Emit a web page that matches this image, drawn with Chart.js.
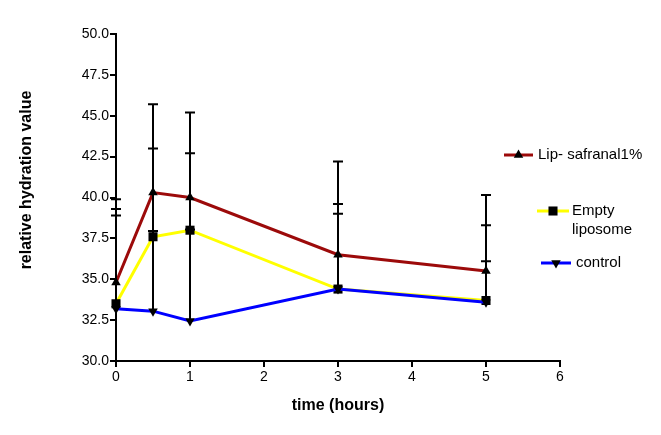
<!DOCTYPE html>
<html>
<head>
<meta charset="utf-8">
<script src="https://cdn.jsdelivr.net/npm/chart.js@4"></script>
<style>
  html, body { margin: 0; padding: 0; background: #ffffff; }
  #wrap { width: 661px; height: 435px; }
</style>
</head>
<body>
<div id="wrap"><canvas id="c" width="661" height="435"></canvas></div>
<script>
// ---- data ----
const times = [0, 0.5, 1, 3, 5];
const lipSafranal = [34.8, 40.3, 40.0, 36.5, 35.5];
const lipSafranalErr = [5.1, 5.4, 5.2, 5.7, 4.65];
const emptyLiposome = [33.5, 37.6, 38.0, 34.4, 33.7];
const emptyLiposomeErr = [5.8, 5.4, 4.7, 5.2, 4.6];
const control = [33.2, 33.05, 32.45, 34.4, 33.6];
const controlErr = [5.7, 4.9, 5.6, 4.6, 2.5];
const seriesLabels = ['Lip- safranal1%', ['Empty', 'liposome'], 'control'];
const xTitle = 'time (hours)';
const yTitle = 'relative hydration value';

const toPts = (ys) => times.map((t, i) => ({ x: t, y: ys[i] }));

const whiteBg = {
  id: 'whiteBg',
  beforeDraw(chart) {
    const ctx = chart.ctx;
    ctx.save();
    ctx.fillStyle = '#ffffff';
    ctx.fillRect(0, 0, chart.width, chart.height);
    ctx.restore();
  }
};

const yAxisTitle = {
  id: 'yAxisTitle',
  afterDraw(chart) {
    const ctx = chart.ctx;
    ctx.save();
    ctx.translate(27, 180);
    ctx.rotate(-Math.PI / 2);
    ctx.fillStyle = '#000000';
    ctx.font = 'bold 16px "Liberation Sans", Arial, sans-serif';
    ctx.textAlign = 'center';
    ctx.textBaseline = 'middle';
    ctx.fillText(yTitle, 0, 0);
    ctx.restore();
  }
};

const errorBars = {
  id: 'errorBars',
  afterDatasetsDraw(chart) {
    const ctx = chart.ctx;
    const xs = chart.scales.x, ys = chart.scales.y;
    ctx.save();
    ctx.strokeStyle = '#000000';
    ctx.lineWidth = 2;
    chart.data.datasets.forEach((ds) => {
      const errs = ds.errors;
      ds.data.forEach((p, i) => {
        const px = xs.getPixelForValue(p.x);
        const y0 = ys.getPixelForValue(p.y);
        const y1 = ys.getPixelForValue(p.y + errs[i]);
        ctx.beginPath();
        ctx.moveTo(px, y0);
        ctx.lineTo(px, y1);
        ctx.moveTo(px - 5, y1);
        ctx.lineTo(px + 5, y1);
        ctx.stroke();
      });
    });
    ctx.restore();
  }
};

const sideLegend = {
  id: 'sideLegend',
  afterDraw(chart) {
    const ctx = chart.ctx;
    const items = [
      { ds: 0, x0: 504, x1: 533, y: 155, tx: 538 },
      { ds: 1, x0: 537, x1: 569, y: 211, tx: 572 },
      { ds: 2, x0: 541, x1: 571, y: 263, tx: 576 }
    ];
    ctx.save();
    items.forEach((it) => {
      const ds = chart.data.datasets[it.ds];
      ctx.strokeStyle = ds.borderColor;
      ctx.lineWidth = 3;
      ctx.beginPath();
      ctx.moveTo(it.x0, it.y);
      ctx.lineTo(it.x1, it.y);
      ctx.stroke();
      ctx.fillStyle = '#000000';
      Chart.helpers.drawPoint(ctx, {
        pointStyle: ds.pointStyle,
        radius: ds.pointRadius,
        rotation: ds.pointRotation || 0,
        borderWidth: 0
      }, (it.x0 + it.x1) / 2, it.y);
      ctx.fillStyle = '#000000';
      ctx.font = '15px "Liberation Sans", Arial, sans-serif';
      ctx.textBaseline = 'middle';
      ctx.textAlign = 'left';
      const lbl = Array.isArray(ds.label) ? ds.label : [ds.label];
      lbl.forEach((line, k) => ctx.fillText(line, it.tx, it.y + k * 19));
    });
    ctx.restore();
  }
};

const datasets = [
  {
    label: seriesLabels[0], data: toPts(lipSafranal), errors: lipSafranalErr,
    borderColor: '#9c0a0a', backgroundColor: '#000000',
    pointStyle: 'triangle', pointRadius: 5.5, pointRotation: 0, order: 3
  },
  {
    label: seriesLabels[1], data: toPts(emptyLiposome), errors: emptyLiposomeErr,
    borderColor: '#ffff00', backgroundColor: '#000000',
    pointStyle: 'rect', pointRadius: 6.4, pointRotation: 0, order: 2
  },
  {
    label: seriesLabels[2], data: toPts(control), errors: controlErr,
    borderColor: '#0000ff', backgroundColor: '#000000',
    pointStyle: 'triangle', pointRadius: 5.5, pointRotation: 180, order: 1
  }
].map(d => Object.assign({
  borderWidth: 3,
  pointBackgroundColor: '#000000',
  pointBorderColor: '#000000',
  pointBorderWidth: 0,
  pointHoverRadius: d.pointRadius,
  tension: 0,
  clip: false,
  fill: false
}, d));

const tickFont = { family: '"Liberation Sans", Arial, sans-serif', size: 14 };
const titleFont = { family: '"Liberation Sans", Arial, sans-serif', size: 16, weight: 'bold' };

new Chart(document.getElementById('c'), {
  type: 'line',
  data: { datasets },
  options: {
    responsive: false,
    animation: false,
    devicePixelRatio: 1,
    layout: { padding: { left: 0, right: 101, top: 34, bottom: 0 } },
    plugins: { legend: { display: false }, tooltip: { enabled: false } },
    scales: {
      x: {
        type: 'linear', min: 0, max: 6,
        ticks: { stepSize: 1, color: '#000000', font: tickFont, padding: 2 },
        grid: { display: true, drawOnChartArea: false, drawTicks: true, tickLength: 6, color: '#000000', lineWidth: 2, tickWidth: 2 },
        border: { display: true, color: '#000000', width: 2 },
        title: { display: true, text: xTitle, color: '#000000', font: titleFont, padding: { top: 0, bottom: 20 } },
        afterFit(s) { s.height = 74; }
      },
      y: {
        type: 'linear', min: 30, max: 50,
        ticks: { stepSize: 2.5, color: '#000000', font: tickFont, padding: 1,
                 callback: (v) => Number(v).toFixed(1) },
        grid: { display: true, drawOnChartArea: false, drawTicks: true, tickLength: 6, color: '#000000', lineWidth: 2, tickWidth: 2 },
        border: { display: true, color: '#000000', width: 2 },
        title: { display: false, text: yTitle },
        afterFit(s) { s.width = 116; }
      }
    }
  },
  plugins: [whiteBg, errorBars, sideLegend, yAxisTitle]
});
</script>
</body>
</html>
